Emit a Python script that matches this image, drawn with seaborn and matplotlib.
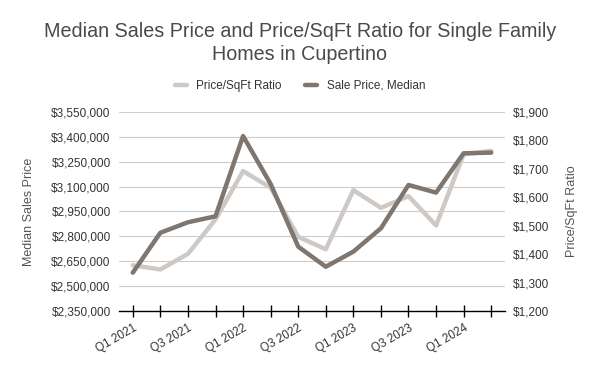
import matplotlib
matplotlib.use("Agg")
import matplotlib.pyplot as plt
import matplotlib.ticker as mticker
import pandas as pd
import seaborn as sns

quarters = ["Q1 2021", "Q2 2021", "Q3 2021", "Q4 2021",
            "Q1 2022", "Q2 2022", "Q3 2022", "Q4 2022",
            "Q1 2023", "Q2 2023", "Q3 2023", "Q4 2023",
            "Q1 2024", "Q2 2024"]
sale_price = [2581000, 2822000, 2885000, 2921000,
              3405000, 3116000, 2738000, 2617000,
              2708000, 2849000, 3110000, 3064000,
              3301000, 3305000]
price_sqft = [1361, 1346, 1401, 1522,
              1692, 1634, 1461, 1417,
              1625, 1563, 1604, 1501,
              1751, 1763]

dark = "#7e766f"
light = "#cfc9c5"
text_c = "#555555"

df = pd.DataFrame({"idx": range(len(quarters)), "quarter": quarters,
                   "sale": sale_price, "sqft": price_sqft})

sns.set_style("white")
plt.rcParams["font.family"] = ["Liberation Sans", "DejaVu Sans"]

fig = plt.figure(figsize=(6, 3.71), dpi=100)
ax = fig.add_axes([119 / 600, 1 - 311 / 371, 386 / 600, 199 / 371])
ax2 = ax.twinx()

sns.lineplot(data=df, x="idx", y="sqft", ax=ax2, color=light, linewidth=3.2)
sns.lineplot(data=df, x="idx", y="sale", ax=ax, color=dark, linewidth=3.2)
ax.set_zorder(ax2.get_zorder() + 1)
ax.patch.set_visible(False)

ax.set_xlim(-0.5, len(quarters) - 0.5)
ax.set_ylim(2350000, 3550000)
ax.set_yticks(range(2350000, 3550001, 150000))
ax2.set_ylim(1200, 1900)
ax2.set_yticks(range(1200, 1901, 100))

ax.yaxis.set_major_formatter(mticker.StrMethodFormatter("${x:,.0f}"))
ax2.yaxis.set_major_formatter(mticker.StrMethodFormatter("${x:,.0f}"))

ax.set_xticks(range(len(quarters)))
ax.set_xticklabels([q if i % 2 == 0 else "" for i, q in enumerate(quarters)],
                   rotation=30, ha="right", rotation_mode="anchor")
ax.tick_params(axis="x", bottom=True, direction="inout", length=8, width=1,
               color="black", labelsize=8.5, labelcolor="#333333", pad=4)
ax.tick_params(axis="y", length=0, labelsize=8.5, labelcolor="#333333", pad=6)
ax2.tick_params(axis="y", length=0, labelsize=8.5, labelcolor="#333333", pad=6)

ax.grid(axis="y", color="#cccccc", linewidth=0.8)
for a in (ax, ax2):
    for s in ["top", "left", "right", "bottom"]:
        a.spines[s].set_visible(False)
ax.spines["bottom"].set_visible(True)
ax.spines["bottom"].set_color("black")
ax.spines["bottom"].set_linewidth(1)

ax.set_xlabel("")
ax.set_ylabel("Median Sales Price", color=text_c, fontsize=9, labelpad=12)
ax2.set_ylabel("Price/SqFt Ratio", color=text_c, fontsize=9, labelpad=12)

fig.suptitle("Median Sales Price and Price/SqFt Ratio for Single Family\nHomes in Cupertino",
             y=0.94, fontsize=14.2, color="#4a4a4a", linespacing=1.25)

handles = [plt.Line2D([], [], color=light, linewidth=3.2),
           plt.Line2D([], [], color=dark, linewidth=3.2)]
fig.legend(handles, ["Price/SqFt Ratio", "Sale Price, Median"], loc="center",
           bbox_to_anchor=(0.5, 1 - 86 / 371), ncol=2, frameon=False,
           fontsize=8.5, handlelength=1.0, columnspacing=2.0,
           labelcolor="#333333")

fig.savefig("out.png", dpi=100)
